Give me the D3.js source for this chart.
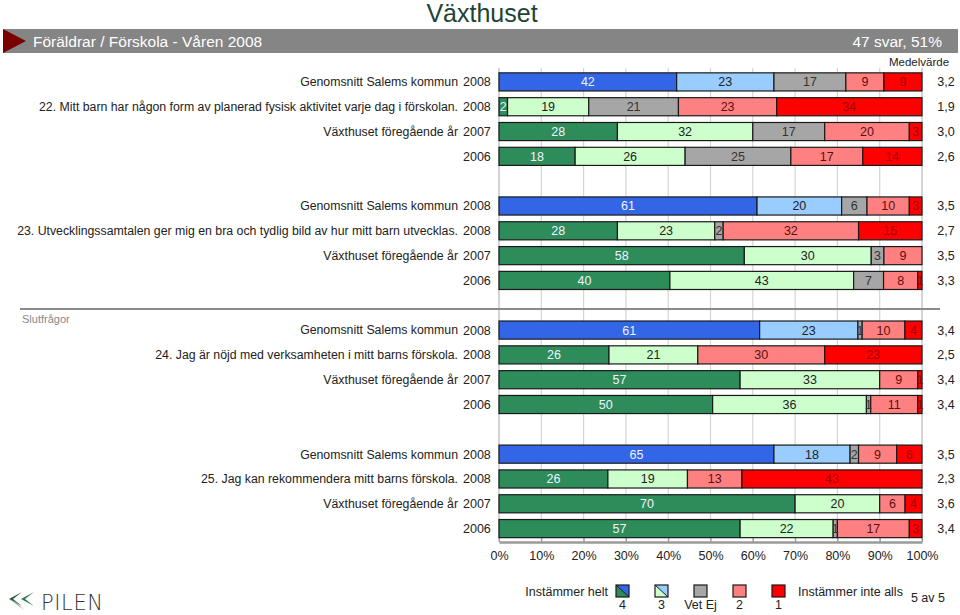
<!DOCTYPE html>
<html><head><meta charset="utf-8">
<script src="https://cdn.jsdelivr.net/npm/d3@7/dist/d3.min.js"></script>
<style>body{margin:0;background:#fff;}svg{display:block;font-family:"Liberation Sans",Arial,sans-serif;}</style>
</head><body><svg id="c" width="960" height="615"></svg>
<script>
const seriesKeys = ["4","3","Vet Ej","2","1"];
const legendLabels = ["4","3","Vet Ej","2","1"];
const tickLabels = ["0%","10%","20%","30%","40%","50%","60%","70%","80%","90%","100%"];
const questions = [
  "22.  Mitt barn har någon form av planerad fysisk aktivitet varje dag i förskolan.",
  "23.  Utvecklingssamtalen ger mig en bra och tydlig bild av hur mitt barn utvecklas.",
  "24.  Jag är nöjd med verksamheten i mitt barns förskola.",
  "25.  Jag kan rekommendera mitt barns förskola."
];
const rowKinds = ["Genomsnitt Salems kommun","question","Växthuset föregående år",""];
const rowYears = ["2008","2008","2007","2006"];
// values per row (16 rows: 4 questions x 4 rows)
const v4    = [42, 2,28,18, 61,28,58,40, 61,26,57,50, 65,26,70,57];
const v3    = [23,19,32,26, 20,23,30,43, 23,21,33,36, 18,19,20,22];
const vVet  = [17,21,17,25,  6, 2, 3, 7,  1, 0, 0, 1,  2, 0, 0, 1];
const v2    = [ 9,23,20,17, 10,32, 9, 8, 10,30, 9,11,  9,13, 6,17];
const v1    = [ 9,34, 3,14,  3,15, 0, 1,  4,23, 1, 1,  6,43, 4, 3];
const means = ["3,2","1,9","3,0","2,6","3,5","2,7","3,5","3,3","3,4","2,5","3,4","3,4","3,5","2,3","3,6","3,4"];

const rows = v4.map((d,i)=>({
  i, q: Math.floor(i/4), r: i%4,
  "4": v4[i], "3": v3[i], "Vet Ej": vVet[i], "2": v2[i], "1": v1[i],
  mean: means[i]
}));

const colorsAvg = {"4":"#3366e6","3":"#99ccff","Vet Ej":"#a6a6a6","2":"#ff8080","1":"#ff0000"};
const colorsOwn = {"4":"#2e8b5a","3":"#ccffcc","Vet Ej":"#a6a6a6","2":"#ff8080","1":"#ff0000"};
const textCol = {"4":"#f0f4ff","3":"#222","Vet Ej":"#333","2":"#5a1010","1":"#a00000"};

const svg = d3.select("#c");
const x = d3.scaleLinear().domain([0,1]).range([499,922]);
const y = d3.scaleBand().domain(d3.range(19)).range([69.5,541]).paddingInner(0.27).paddingOuter(0.135);
const slot = d => d.q*5 + d.r;

// Header
svg.append("text").attr("x",482).attr("y",22).attr("text-anchor","middle")
  .attr("font-size",25).attr("fill","#1d4436").text("Växthuset");
svg.append("rect").attr("x",3).attr("y",29).attr("width",955).attr("height",24).attr("fill","#858585");
svg.append("path").attr("d","M3,29 L26,41 L3,53 Z").attr("fill","#7a0000");
svg.append("text").attr("x",33).attr("y",47).attr("font-size",15.5).attr("fill","#fff").text("Föräldrar / Förskola - Våren 2008");
svg.append("text").attr("x",942).attr("y",47).attr("text-anchor","end").attr("font-size",15.5).attr("fill","#fff").text("47 svar, 51%");
svg.append("text").attr("x",919).attr("y",66).attr("text-anchor","middle").attr("font-size",11.5).attr("fill","#222").text("Medelvärde");

// Grid
const ticks = d3.range(0,1.0001,0.1);
svg.append("g").selectAll("line").data(ticks).join("line")
  .attr("x1",d=>x(d)).attr("x2",d=>x(d)).attr("y1",68).attr("y2",542)
  .attr("stroke",(d,i)=> (i===0||i===10)?"#b8b8b8":"#d4d4d4").attr("stroke-width",1.2);

// Axis
const axis = d3.axisBottom(x).tickValues(ticks).tickSizeInner(-4).tickSizeOuter(0).tickPadding(8).tickFormat((d,i)=>tickLabels[i]);
const ag = svg.append("g").attr("transform","translate(0,542)").call(axis);
ag.select(".domain").attr("stroke","#9a9a9a").attr("stroke-width",2.5);
ag.selectAll(".tick line").attr("stroke","#9a9a9a").attr("stroke-width",1.2);
ag.selectAll("text").attr("font-size",12.5).attr("fill","#222").attr("y",9).attr("dy","0.71em").attr("font-family","Liberation Sans, Arial");

// Separator
svg.append("line").attr("x1",20).attr("x2",940).attr("y1",309).attr("y2",309).attr("stroke","#8a8a8a").attr("stroke-width",2);
svg.append("text").attr("x",22).attr("y",323).attr("font-size",11).attr("fill","#888").text("Slutfrågor");

// Stack
const stack = d3.stack().keys(seriesKeys).offset(d3.stackOffsetExpand);
const series = stack(rows);
const bh = y.bandwidth();

const gBars = svg.append("g");
const gVals = svg.append("g");
series.forEach(s=>{
  const key = s.key;
  const nz = s.filter(d=>d.data[key]>0);
  gBars.append("g").selectAll("rect").data(nz).join("rect")
    .attr("x",d=>x(d[0])).attr("width",d=>x(d[1])-x(d[0]))
    .attr("y",d=>y(slot(d.data))).attr("height",bh)
    .attr("fill",d=> d.data.r===0 ? colorsAvg[key] : colorsOwn[key])
    .attr("stroke","#1a1a1a").attr("stroke-width",1.2);
  gVals.append("g").selectAll("text").data(nz).join("text")
    .attr("x",d=>(x(d[0])+x(d[1]))/2).attr("y",d=>y(slot(d.data))+bh/2)
    .attr("dy","0.36em").attr("text-anchor","middle").attr("font-size",12.5)
    .attr("fill",textCol[key]).text(d=>d.data[key]);
});

// Row labels
const lab = svg.append("g");
lab.selectAll("text.lbl").data(rows).join("text").attr("class","lbl")
  .attr("x",458).attr("y",d=>y(slot(d))+bh/2).attr("dy","0.36em").attr("text-anchor","end")
  .attr("font-size",12.3).attr("fill","#222")
  .text(d=> d.r===1 ? questions[d.q] : rowKinds[d.r]);
lab.selectAll("text.yr").data(rows).join("text").attr("class","yr")
  .attr("x",463).attr("y",d=>y(slot(d))+bh/2).attr("dy","0.36em")
  .attr("font-size",12.5).attr("fill","#222").text(d=>rowYears[d.r]);
lab.selectAll("text.mean").data(rows).join("text").attr("class","mean")
  .attr("x",946).attr("y",d=>y(slot(d))+bh/2).attr("dy","0.36em").attr("text-anchor","middle")
  .attr("font-size",12.5).attr("fill","#222").text(d=>d.mean);

// Legend
const lx = [616,655,694,733,772];
const leg = svg.append("g");
svg.append("text").attr("x",608).attr("y",596).attr("text-anchor","end").attr("font-size",12.5).attr("fill","#222").text("Instämmer helt");
svg.append("text").attr("x",798).attr("y",596).attr("font-size",12.5).attr("fill","#222").text("Instämmer inte alls");
svg.append("text").attr("x",945).attr("y",602).attr("text-anchor","end").attr("font-size",12.5).attr("fill","#222").text("5 av 5");
seriesKeys.forEach((k,i)=>{
  const g = leg.append("g").attr("transform",`translate(${lx[i]},585)`);
  if(i<2){
    g.append("path").attr("d","M0,0 L13,0 L13,12 Z").attr("fill",colorsAvg[k]);
    g.append("path").attr("d","M0,0 L0,12 L13,12 Z").attr("fill",colorsOwn[k]);
    g.append("line").attr("x1",0).attr("y1",0).attr("x2",13).attr("y2",12).attr("stroke","#1a1a1a").attr("stroke-width",1);
    g.append("rect").attr("width",13).attr("height",12).attr("fill","none").attr("stroke","#1a1a1a").attr("stroke-width",1.2);
  } else {
    g.append("rect").attr("width",13).attr("height",12).attr("fill",colorsAvg[k]).attr("stroke","#1a1a1a").attr("stroke-width",1.2);
  }
  g.append("text").attr("x",6.5).attr("y",24).attr("text-anchor","middle").attr("font-size",12.5).attr("fill","#222").text(legendLabels[i]);
});

// Logo
const logo = svg.append("g");
logo.append("path").attr("d","M22,592 L9,599 L22,606 L13,599 Z").attr("fill","#1f5a3a");
logo.append("path").attr("d","M34,592 L21,599 L34,606 L25,599 Z").attr("fill","#2e7a50");
logo.append("path").attr("d","M9,599 L24,610 L16,602 Z").attr("fill","#9ab0a4");
logo.append("text").attr("x",41).attr("y",610).attr("font-size",21).attr("fill","#333")
  .attr("font-family","DejaVu Sans, sans-serif").attr("font-weight",200).attr("textLength",62).text("PILEN");
</script></body></html>
